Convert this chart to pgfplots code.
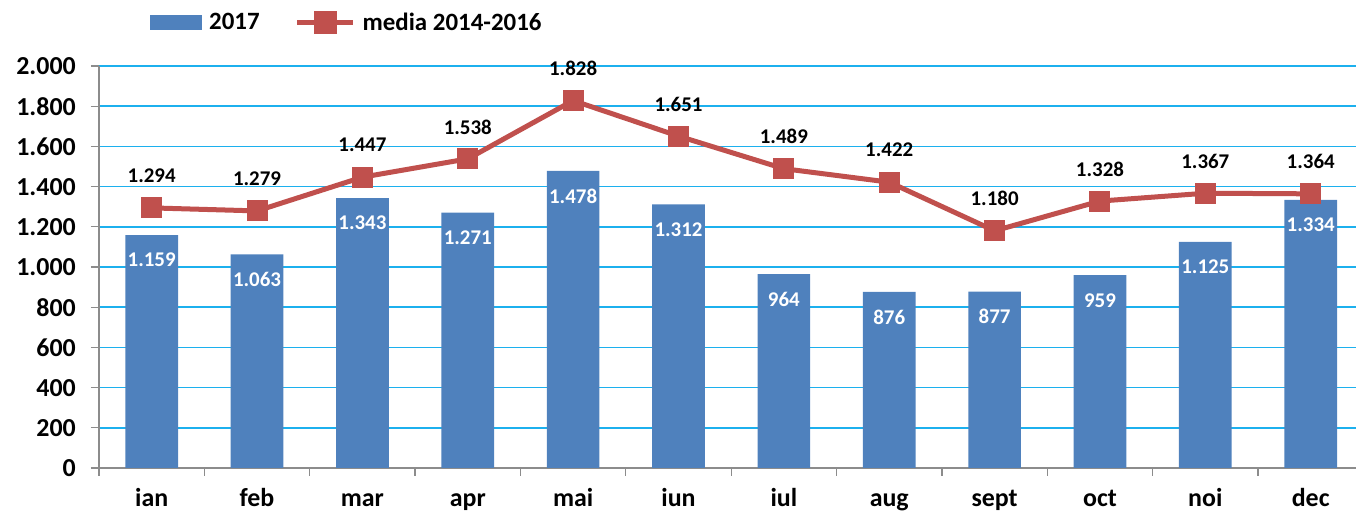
\documentclass[border=0pt]{standalone}
\usepackage{pgfplots}
\pgfplotsset{compat=1.18}
\usepackage{fontspec}
\setmainfont{Carlito}
\definecolor{barblue}{HTML}{4F81BD}
\definecolor{linered}{HTML}{C0504D}
\definecolor{gridcyan}{HTML}{1CB0EE}
\definecolor{axisgray}{HTML}{8C8C8C}
\begin{document}
\begin{tikzpicture}
\begin{axis}[
  name=ax, scale only axis, width=1257bp, height=402bp,
  xmin=-0.5, xmax=11.43, ymin=0, ymax=2000,
  axis x line*=bottom, axis y line*=left,
  axis line style={axisgray, line width=1.2bp},
  tick align=outside, major tick length=8bp,
  tick style={axisgray, line width=1.2bp},
  xtick={-0.5,0.5,...,11.5}, xticklabels={},
  extra x ticks={0,1,2,3,4,5,6,7,8,9,10,11},
  extra x tick labels={ian,feb,mar,apr,mai,iun,iul,aug,sept,oct,noi,dec},
  extra x tick style={major tick length=0pt, grid=none,
    xticklabel style={font=\bfseries\fontsize{26}{26}\selectfont, anchor=base, yshift=-39bp}},
  ytick={0,200,...,2000},
  ymajorgrids, grid style={gridcyan, line width=1.5bp},
  yticklabel style={font=\bfseries\fontsize{26}{26}\selectfont, anchor=east, inner sep=0pt, xshift=-15bp},
  /pgf/number format/.cd, 1000 sep={.}, assume math mode=true, /pgfplots/.cd,
  clip=false,
  legend columns=-1,
  legend style={at={(axis description cs:0.0406,1)}, anchor=west, yshift=43.5bp,
    draw=none, fill=none, inner sep=0pt, font=\bfseries\fontsize{25}{25}\selectfont,
    /tikz/every odd column/.append style={column sep=5bp},
    /tikz/every even column/.append style={column sep=33bp}},
]
\coordinate (bl) at (rel axis cs:0,0);
\coordinate (tr) at (rel axis cs:1,1);
\addplot[ybar, bar shift=0pt, bar width=0.5, fill=barblue, draw=none,
  nodes near coords,
  every node near coord/.append style={font=\bfseries\fontsize{21}{21}\selectfont, text=white, anchor=center, yshift=-25bp},
  legend image code/.code={\fill[barblue] (0bp,-7.5bp) rectangle (52bp,7.5bp);}]
  coordinates {(0,1159) (1,1063) (2,1343) (3,1271) (4,1478) (5,1312) (6,964) (7,876) (8,877) (9,959) (10,1125) (11,1334)};
\addlegendentry{2017}
\addplot[linered, line width=5bp, mark=square*, mark size=10bp, mark options={solid, fill=linered, draw=linered, line width=0pt},
  nodes near coords,
  every node near coord/.append style={font=\bfseries\fontsize{21}{21}\selectfont, text=black, anchor=center, yshift=32bp},
  legend image code/.code={\draw[linered, line width=5bp] (0bp,0bp) -- (56bp,0bp); \fill[linered] (19bp,-9bp) rectangle (37bp,9bp);}]
  coordinates {(0,1294) (1,1279) (2,1447) (3,1538) (4,1828) (5,1651) (6,1489) (7,1422) (8,1180) (9,1328) (10,1367) (11,1364)};
\addlegendentry{media 2014-2016}
\end{axis}
\pgfresetboundingbox
\path[use as bounding box] ([xshift=-99bp,yshift=-46bp]bl) rectangle ([yshift=66bp]tr);
\end{tikzpicture}
\end{document}
